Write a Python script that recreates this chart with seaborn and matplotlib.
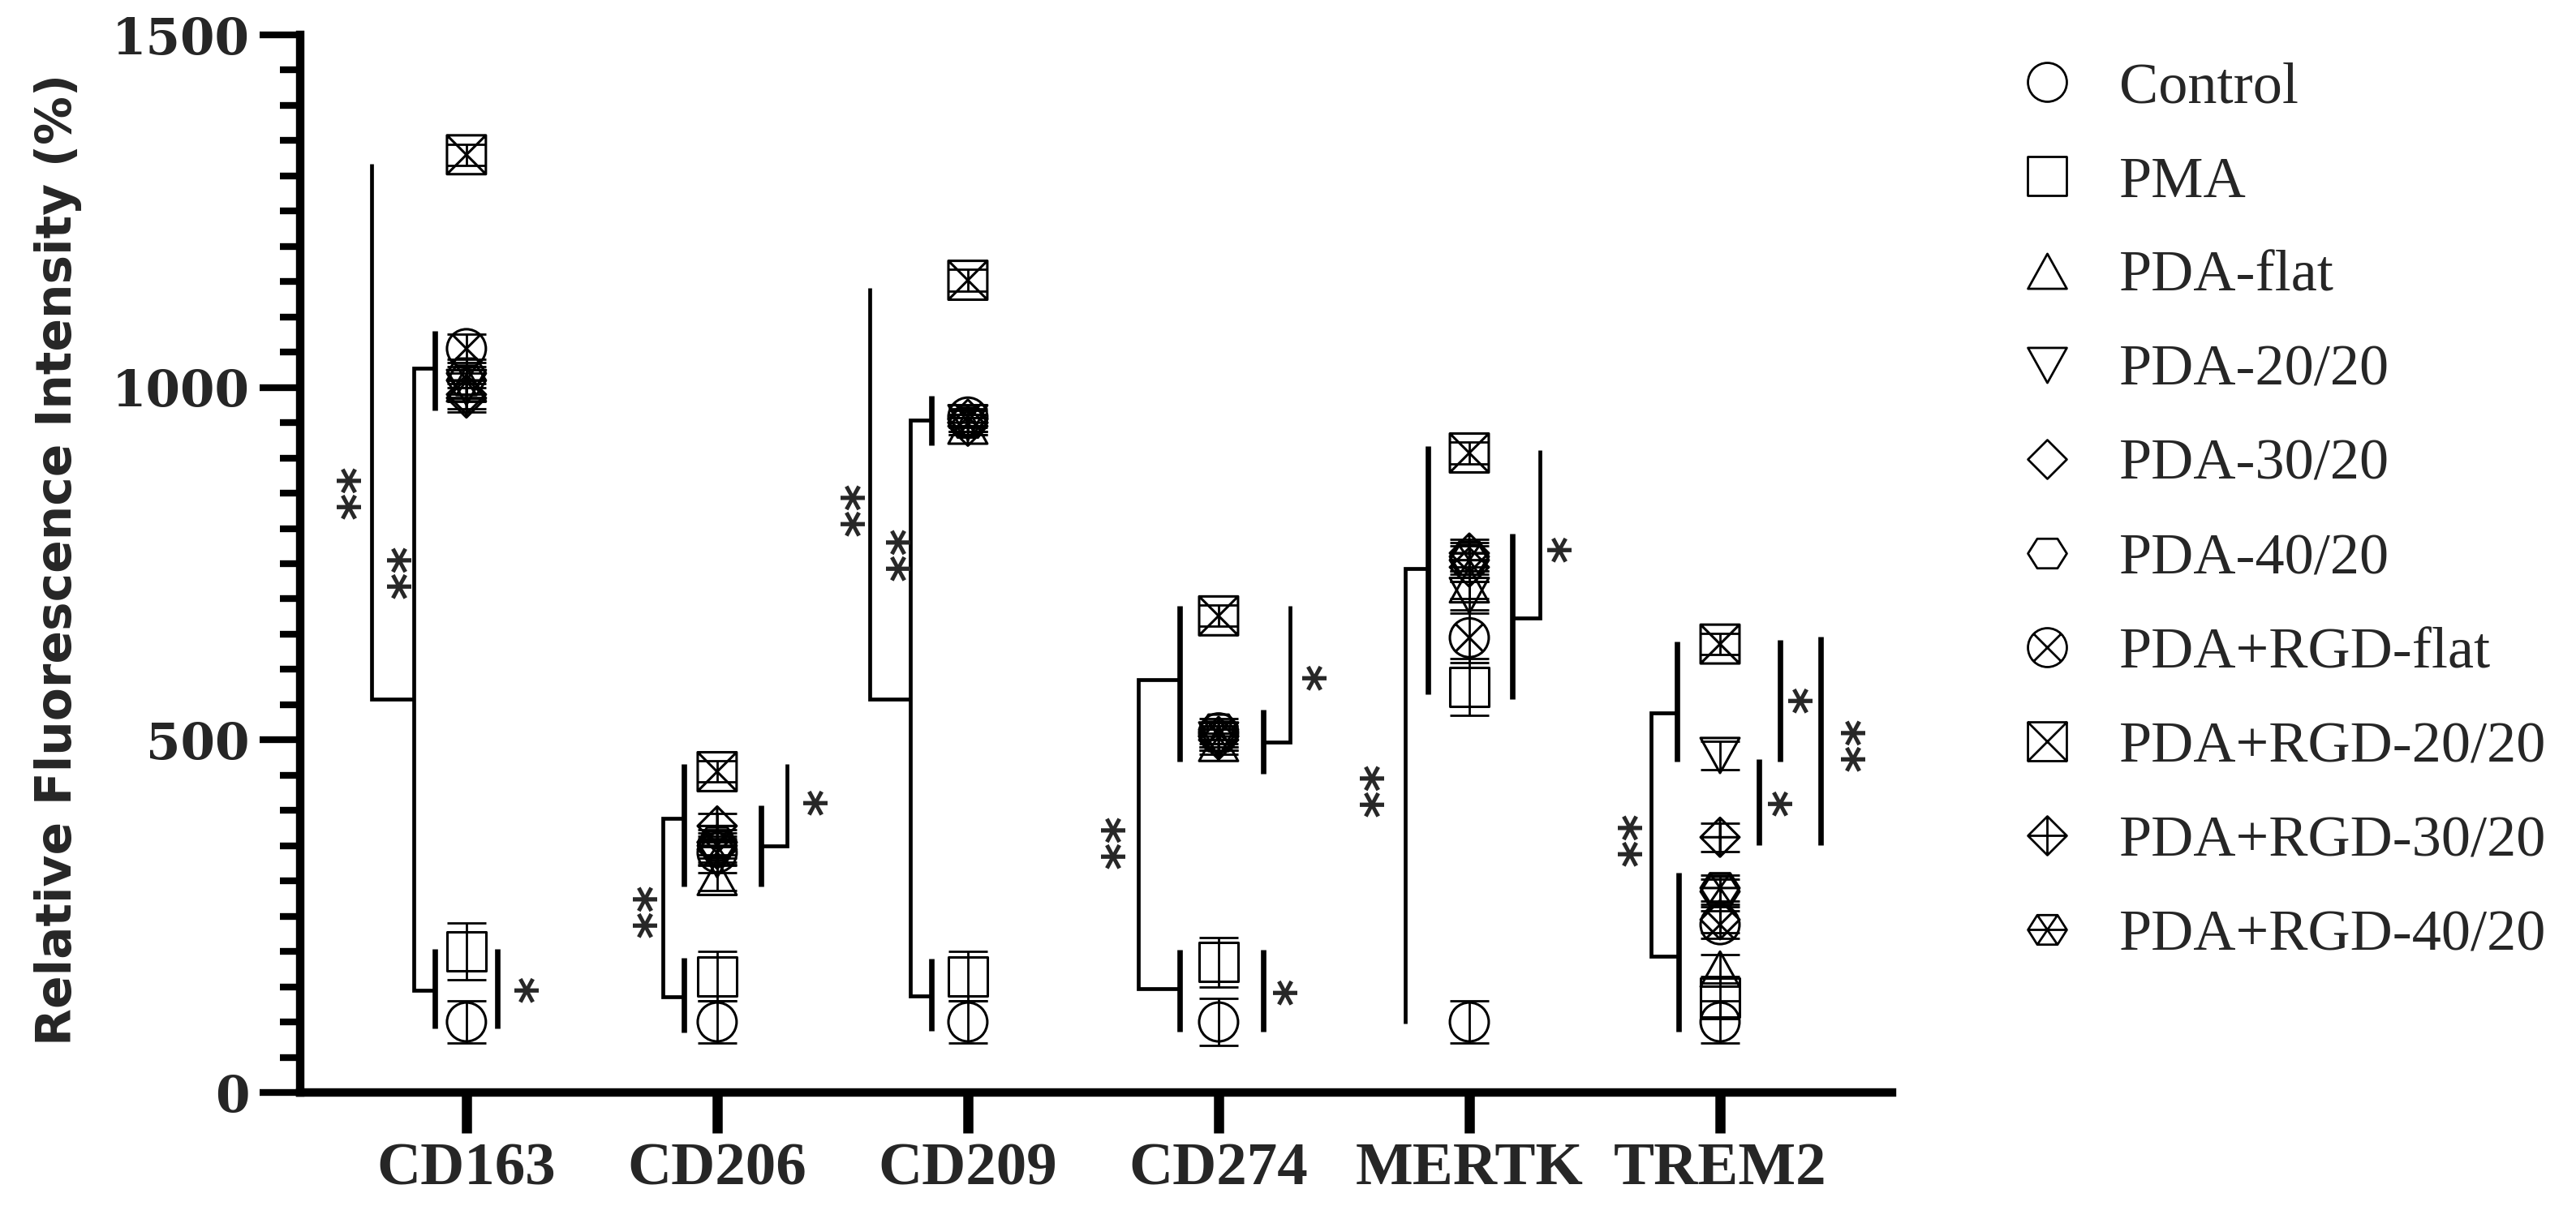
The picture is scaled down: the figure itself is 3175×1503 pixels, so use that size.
import numpy as np
import pandas as pd
import matplotlib
matplotlib.use("Agg")
import matplotlib.pyplot as plt
from matplotlib.path import Path
from matplotlib.lines import Line2D
from matplotlib.markers import MarkerStyle
from matplotlib.ticker import MultipleLocator
import matplotlib.transforms as mtransforms
import seaborn as sns

# ---------------- data ----------------
CATEGORIES = ["CD163", "CD206", "CD209", "CD274", "MERTK", "TREM2"]
GROUPS = ["Control", "PMA", "PDA-flat", "PDA-20/20", "PDA-30/20", "PDA-40/20",
          "PDA+RGD-flat", "PDA+RGD-20/20", "PDA+RGD-30/20", "PDA+RGD-40/20"]

# mean values (order follows GROUPS)
CD163_MEAN = [100, 200, 1005, 1000, 990, 1020, 1055, 1330, 985, 1010]
CD206_MEAN = [100, 165, 305, 330, 345, 355, 340, 455, 378, 350]
CD209_MEAN = [100, 165, 945, 950, 955, 950, 958, 1152, 945, 950]
CD274_MEAN = [100, 185, 495, 500, 505, 515, 510, 676, 500, 505]
MERTK_MEAN = [100, 575, 720, 705, 745, 760, 645, 907, 765, 755]
TREM2_MEAN = [100, 135, 175, 478, 245, 285, 238, 636, 362, 290]

# error (SD) values
CD163_ERR = [30, 40, 20, 20, 20, 20, 20, 15, 20, 20]
CD206_ERR = [30, 35, 18, 18, 18, 18, 18, 15, 18, 18]
CD209_ERR = [30, 35, 12, 12, 12, 12, 12, 15, 12, 12]
CD274_ERR = [33, 35, 15, 15, 15, 15, 15, 15, 15, 15]
MERTK_ERR = [30, 40, 20, 20, 20, 20, 35, 15, 20, 20]
TREM2_ERR = [30, 30, 20, 20, 18, 18, 20, 15, 20, 18]

MEANS = [CD163_MEAN, CD206_MEAN, CD209_MEAN, CD274_MEAN, MERTK_MEAN, TREM2_MEAN]
ERRS = [CD163_ERR, CD206_ERR, CD209_ERR, CD274_ERR, MERTK_ERR, TREM2_ERR]

Y_TICKS = [0, 500, 1000, 1500]
Y_LABEL = "Relative Fluorescence Intensity (%)"

# significance annotations: (offset from category, y from, y to)
SIG_BARS = {
    "CD163": [(-0.126, 967, 1080), (-0.126, 91, 204), (0.123, 91, 204)],
    "CD206": [(-0.133, 292, 466), (-0.133, 85, 191), (0.175, 292, 407)],
    "CD209": [(-0.146, 918, 988), (-0.146, 87, 190)],
    "CD274": [(-0.155, 469, 690), (-0.155, 86, 202), (0.178, 452, 543), (0.178, 86, 202)],
    "MERTK": [(-0.165, 565, 917), (0.17, 558, 792)],
    "TREM2": [(-0.17, 469, 640), (-0.165, 86, 312), (0.24, 469, 642),
              (0.155, 351, 473), (0.40, 351, 646)],
}
SIG_LINKS = {
    "CD163": [[(-0.126, 1027), (-0.21, 1027), (-0.21, 145), (-0.126, 145)],
              [(-0.21, 558), (-0.379, 558), (-0.379, 1317)]],
    "CD206": [[(-0.133, 389), (-0.217, 389), (-0.217, 136), (-0.133, 136)],
              [(0.175, 350), (0.28, 350), (0.28, 466)]],
    "CD209": [[(-0.146, 954), (-0.23, 954), (-0.23, 137), (-0.146, 137)],
              [(-0.23, 558), (-0.39, 558), (-0.39, 1141)]],
    "CD274": [[(-0.155, 585), (-0.32, 585), (-0.32, 147), (-0.155, 147)],
              [(0.178, 497), (0.285, 497), (0.285, 690)]],
    "MERTK": [[(-0.165, 743), (-0.255, 743), (-0.255, 98)],
              [(0.17, 673), (0.28, 673), (0.28, 911)]],
    "TREM2": [[(-0.17, 538), (-0.275, 538), (-0.275, 193), (-0.165, 193)]],
}
SIG_STARS = {
    "CD163": [(-0.49, 852, "**"), (-0.29, 739, "**"), (0.22, 147, "*")],
    "CD206": [(-0.31, 258, "**"), (0.37, 413, "*")],
    "CD209": [(-0.48, 828, "**"), (-0.30, 764, "**")],
    "CD274": [(-0.44, 356, "**"), (0.36, 590, "*"), (0.246, 143, "*")],
    "MERTK": [(-0.41, 429, "**"), (0.34, 771, "*")],
    "TREM2": [(-0.38, 359, "**"), (0.30, 557, "*"), (0.22, 411, "*"), (0.51, 494, "**")],
}

# ---------------- marker shapes ----------------
def _poly(pts):
    verts = list(pts) + [pts[0]]
    codes = [Path.MOVETO] + [Path.LINETO] * (len(pts) - 1) + [Path.CLOSEPOLY]
    return Path(verts, codes)

def _segs(segs):
    verts, codes = [], []
    for a, b in segs:
        verts += [a, b]
        codes += [Path.MOVETO, Path.LINETO]
    return Path(verts, codes)

circ = Path.circle((0, 0), 0.5)
sq = _poly([(-0.5, -0.5), (0.5, -0.5), (0.5, 0.5), (-0.5, 0.5)])
tri_up = _poly([(-0.5, -0.45), (0.5, -0.45), (0, 0.45)])
tri_dn = _poly([(-0.5, 0.45), (0.5, 0.45), (0, -0.45)])
dia = _poly([(0, 0.5), (0.5, 0), (0, -0.5), (-0.5, 0)])
hexv = [(0.5, 0), (0.26, 0.38), (-0.26, 0.38), (-0.5, 0), (-0.26, -0.38), (0.26, -0.38)]
hexa = _poly(hexv)
r = 0.5 / np.sqrt(2)
circ_x = Path.make_compound_path(circ, _segs([((-r, -r), (r, r)), ((-r, r), (r, -r))]))
sq_x = Path.make_compound_path(sq, _segs([((-0.5, -0.5), (0.5, 0.5)), ((-0.5, 0.5), (0.5, -0.5))]))
dia_p = Path.make_compound_path(dia, _segs([((-0.5, 0), (0.5, 0)), ((0, -0.5), (0, 0.5))]))
hex_x = Path.make_compound_path(hexa, _segs([(hexv[0], hexv[3]), (hexv[1], hexv[4]), (hexv[2], hexv[5])]))

MARKERS = dict(zip(GROUPS, [circ, sq, tri_up, tri_dn, dia, hexa, circ_x, sq_x, dia_p, hex_x]))

# ---------------- style ----------------
sns.set_style("ticks")
plt.rcParams["font.family"] = ["DejaVu Sans"]

# ---------------- figure ----------------
W, H = 3175, 1503
fig = plt.figure(figsize=(W / 100, H / 100), dpi=100)
ax = fig.add_axes([370 / W, 1 - 1347 / H, (2332 - 370) / W, (1347 - 43) / H])

rows = []
for ci, cat in enumerate(CATEGORIES):
    for gi, g in enumerate(GROUPS):
        rows.append({"category": cat, "pos": ci, "group": g,
                     "value": MEANS[ci][gi], "err": ERRS[ci][gi]})
df = pd.DataFrame(rows)

ax.errorbar(df["pos"], df["value"], yerr=df["err"], fmt="none", ecolor="black",
            elinewidth=2.0, capsize=17, capthick=2.0, zorder=2)
sns.scatterplot(data=df, x="pos", y="value", style="group", style_order=GROUPS,
                markers=MARKERS, s=1190, color="black", legend=False, ax=ax, zorder=3)
coll = ax.collections[-1]
coll.set_facecolor("none")
coll.set_edgecolor("black")
coll.set_linewidth(2.2)

# significance brackets
STAR_SIZE = 46
star_tf = mtransforms.offset_copy(ax.transData, fig=fig, x=0.33 * STAR_SIZE, y=0, units="points")
for ci, cat in enumerate(CATEGORIES):
    for dx, y0, y1 in SIG_BARS.get(cat, []):
        ax.plot([ci + dx, ci + dx], [y0, y1], color="black", lw=4.8,
                solid_capstyle="butt", zorder=2)
    for pl in SIG_LINKS.get(cat, []):
        xs = [ci + p[0] for p in pl]
        ys = [p[1] for p in pl]
        ax.plot(xs, ys, color="black", lw=3.4, solid_joinstyle="miter",
                solid_capstyle="butt", zorder=2)
    for dx, y, s in SIG_STARS.get(cat, []):
        ax.text(ci + dx, y, s, rotation=90, ha="center", va="center",
                fontsize=STAR_SIZE, fontweight="bold", family="DejaVu Sans",
                transform=star_tf)

# axes styling
ax.set_xlim(-0.663, 5.686)
ax.set_ylim(0, 1500)
ax.set_yticks(Y_TICKS)
ax.yaxis.set_minor_locator(MultipleLocator(50))
ax.set_xticks(range(len(CATEGORIES)))
ax.set_xticklabels(CATEGORIES)
ax.set_xlabel("")
for side in ["top", "right"]:
    ax.spines[side].set_visible(False)
for side in ["left", "bottom"]:
    ax.spines[side].set_linewidth(7.5)
    ax.spines[side].set_color("black")
ax.tick_params(axis="y", which="major", direction="out", length=36, width=6, pad=9, color="black")
ax.tick_params(axis="y", which="minor", direction="out", length=18, width=6, color="black")
ax.tick_params(axis="x", which="major", direction="out", length=36, width=9, pad=8, color="black")
ax.tick_params(axis="x", which="minor", bottom=False)
for lab in ax.get_yticklabels():
    lab.set_fontfamily(["DejaVu Serif"])
    lab.set_fontweight("bold")
    lab.set_fontsize(44)
for lab in ax.get_xticklabels():
    lab.set_fontfamily(["Liberation Serif", "DejaVu Serif"])
    lab.set_fontweight("bold")
    lab.set_fontsize(54)

ax.set_ylabel(Y_LABEL, family=["DejaVu Sans"], fontweight="bold", fontsize=43)
ax.yaxis.label.set_va("center")
ax.yaxis.set_label_coords((72 - 370) / (2332 - 370), (1347 - 690) / (1347 - 43))

# legend
handles = [Line2D([], [], marker=MarkerStyle(MARKERS[g]), linestyle="none", markersize=34.5,
                  markerfacecolor="none", markeredgecolor="black", markeredgewidth=2.0)
           for g in GROUPS]
leg = fig.legend(handles, GROUPS, loc="upper left", bbox_to_anchor=(2499 / W, 1 - 76 / H),
                 frameon=False, borderpad=0, borderaxespad=0, handlelength=0.66,
                 handletextpad=0.9, labelspacing=0.70,
                 prop={"family": ["Liberation Serif", "DejaVu Serif"], "size": 52})

fig.savefig("out.png", dpi=100)
